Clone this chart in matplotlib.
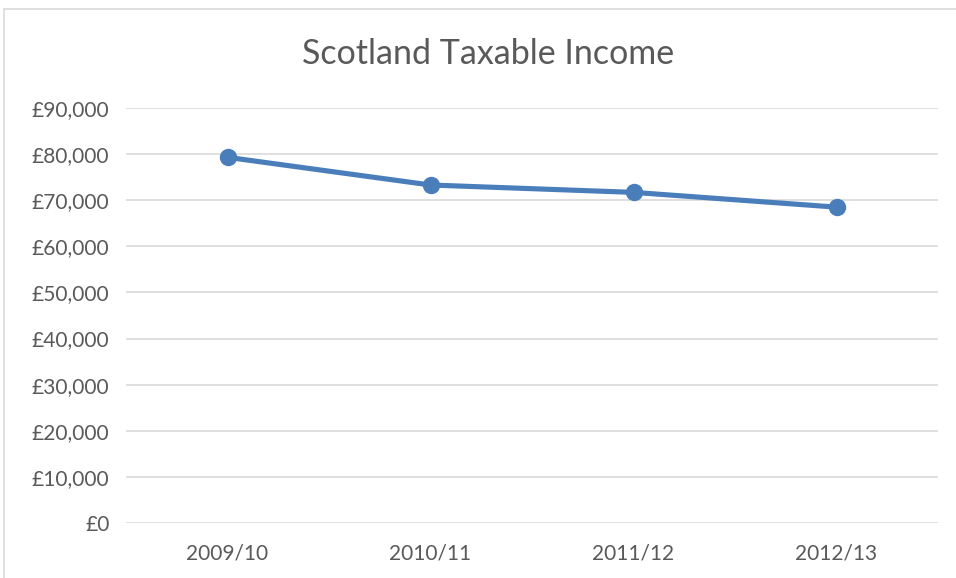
import matplotlib
matplotlib.use("Agg")
import matplotlib.pyplot as plt
from matplotlib.patches import Rectangle
from matplotlib.ticker import FuncFormatter

years = ["2009/10", "2010/11", "2011/12", "2012/13"]
taxable_income = [79300, 73300, 71700, 68500]
y_ticks = list(range(0, 90001, 10000))

W, H = 956, 578
fig = plt.figure(figsize=(W / 100, H / 100), dpi=100)
plt.rcParams["font.family"] = ["Lato", "DejaVu Sans"]

# chart-area border (extends past the right and bottom edges)
fig.patches.append(Rectangle((4 / W, -0.1), 1.2, 1.1 - 9 / H,
                             transform=fig.transFigure, fill=False,
                             edgecolor="#D9D9D9", linewidth=1.2))

ax = fig.add_axes([126 / W, 1 - 523 / H, (938 - 126) / W, (523 - 108) / H])
x = list(range(len(years)))
ax.plot(x, taxable_income, color="#4A7EBB", linewidth=3.7,
        marker="o", markersize=11.5, solid_capstyle="round", zorder=3)

ax.set_xlim(-0.5, len(years) - 0.5)
ax.set_ylim(0, 90000)
ax.set_yticks(y_ticks)
ax.yaxis.set_major_formatter(FuncFormatter(lambda v, p: f"£{int(v):,}"))
ax.set_xticks(x)
ax.set_xticklabels(years)
ax.grid(axis="y", color="#D9D9D9", linewidth=1.2)
ax.set_axisbelow(True)
for s in ax.spines.values():
    s.set_visible(False)
ax.tick_params(axis="both", length=0, labelsize=15, colors="#595959")
ax.tick_params(axis="y", pad=12)
ax.tick_params(axis="x", pad=15)

fig.text(488 / W, 1 - 54 / H, "Scotland Taxable Income", ha="center", va="center",
         fontsize=24.5, color="#595959")

fig.savefig("out.png", dpi=100)
